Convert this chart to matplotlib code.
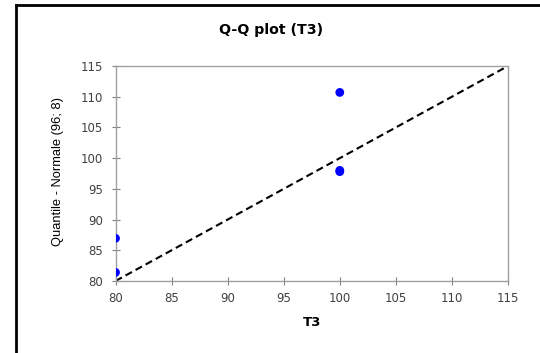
import matplotlib
matplotlib.use("Agg")
import matplotlib.pyplot as plt
from matplotlib.lines import Line2D

# Data
t3_values = [80, 80, 100, 100, 100]
normal_quantiles = [81.4, 86.95, 97.8, 98.0, 110.7]
ref_line = [80, 115]
x_ticks = [80, 85, 90, 95, 100, 105, 110, 115]
y_ticks = [80, 85, 90, 95, 100, 105, 110, 115]
title = "Q-Q plot (T3)"
x_label = "T3"
y_label = "Quantile - Normale (96; 8)"

W, H = 540, 353
fig = plt.figure(figsize=(W / 100, H / 100), dpi=100)
ax = fig.add_axes([115.5 / W, 1 - 281 / H, (508 - 115.5) / W, (281 - 66) / H])

ax.plot(ref_line, ref_line, color="black", linestyle=(0, (3.5, 2)), linewidth=1.5, zorder=2)
ax.scatter(t3_values, normal_quantiles, s=40, color="#0000ff", zorder=3, edgecolors="none")

ax.set_xlim(80, 115)
ax.set_ylim(80, 115)
ax.set_xticks(x_ticks)
ax.set_yticks(y_ticks)
ax.tick_params(direction="inout", length=6, width=0.8, color="#808080",
               labelsize=8.5, labelcolor="#404040")
ax.tick_params(axis="y", pad=6)
ax.tick_params(axis="x", pad=5)
for s in ax.spines.values():
    s.set_color("#a0a0a0")
    s.set_linewidth(1.0)

fig.text(271 / W, 1 - 30 / H, title, ha="center", va="center", fontsize=10.2, fontweight="bold")
fig.text(312 / W, 1 - 322 / H, x_label, ha="center", va="center", fontsize=9.5, fontweight="bold")
fig.text(58 / W, 1 - 171 / H, y_label, ha="center", va="center", rotation=90, fontsize=9.3,
         color="#000000",
         family=["Liberation Sans Narrow", "Liberation Sans", "DejaVu Sans"])

# Outer chart border (left and top visible)
fig.add_artist(Line2D([16 / W, 16 / W], [0, 1 - 5 / H], transform=fig.transFigure, color="black", linewidth=2))
fig.add_artist(Line2D([16 / W, 1], [1 - 5 / H, 1 - 5 / H], transform=fig.transFigure, color="black", linewidth=2))

fig.savefig("out.png", dpi=100)
